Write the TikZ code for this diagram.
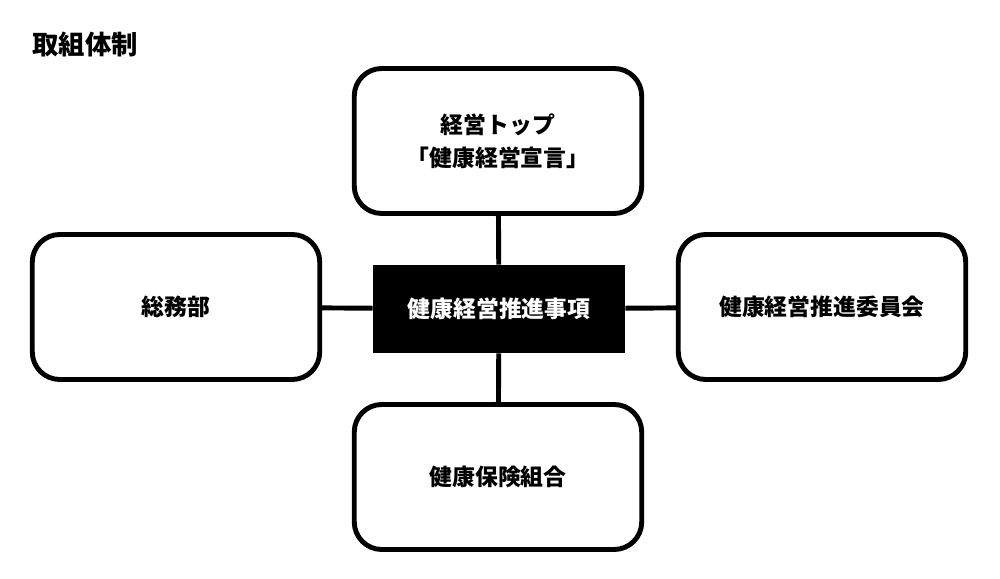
\documentclass[tikz,border=0pt]{standalone}
\usepackage{fontspec}
\setmainfont{Noto Sans CJK JP}
\usetikzlibrary{positioning}

\tikzset{
  orgbox/.style={draw, line width=2.8pt, rounded corners=0.55cm, minimum width=5.75cm, minimum height=2.9cm, align=center, font=\bfseries\fontsize{13}{19}\selectfont},
  corebox/.style={fill=black, text=white, minimum width=5.04cm, minimum height=1.76cm, font=\bfseries\fontsize{13}{15}\selectfont},
  link/.style={line width=2.8pt}
}

\begin{document}
\begin{tikzpicture}[x=0.02cm,y=0.02cm]
        \useasboundingbox (0,0) rectangle (1000,578);
        % Title
        \node[font=\bfseries\fontsize{15}{18}\selectfont, anchor=west, inner sep=0pt] (title) at (32,533) {取組体制};

        % Core
        \node[corebox] (core) at (499,269) {健康経営推進事項};

        % Surrounding boxes
        \node[orgbox] (top) at (498,437) {経営トップ\\「健康経営宣言」};
        \node[orgbox] (left) at (176,271) {総務部};
        \node[orgbox] (right) at (822,271) {健康経営推進委員会};
        \node[orgbox] (bottom) at (498,101) {健康保険組合};

        % Links
        \draw[link] (top) -- (core);
        \draw[link] (bottom) -- (core);
        \draw[link] (left) -- (core);
        \draw[link] (right) -- (core);
    \end{tikzpicture}
\end{document}
